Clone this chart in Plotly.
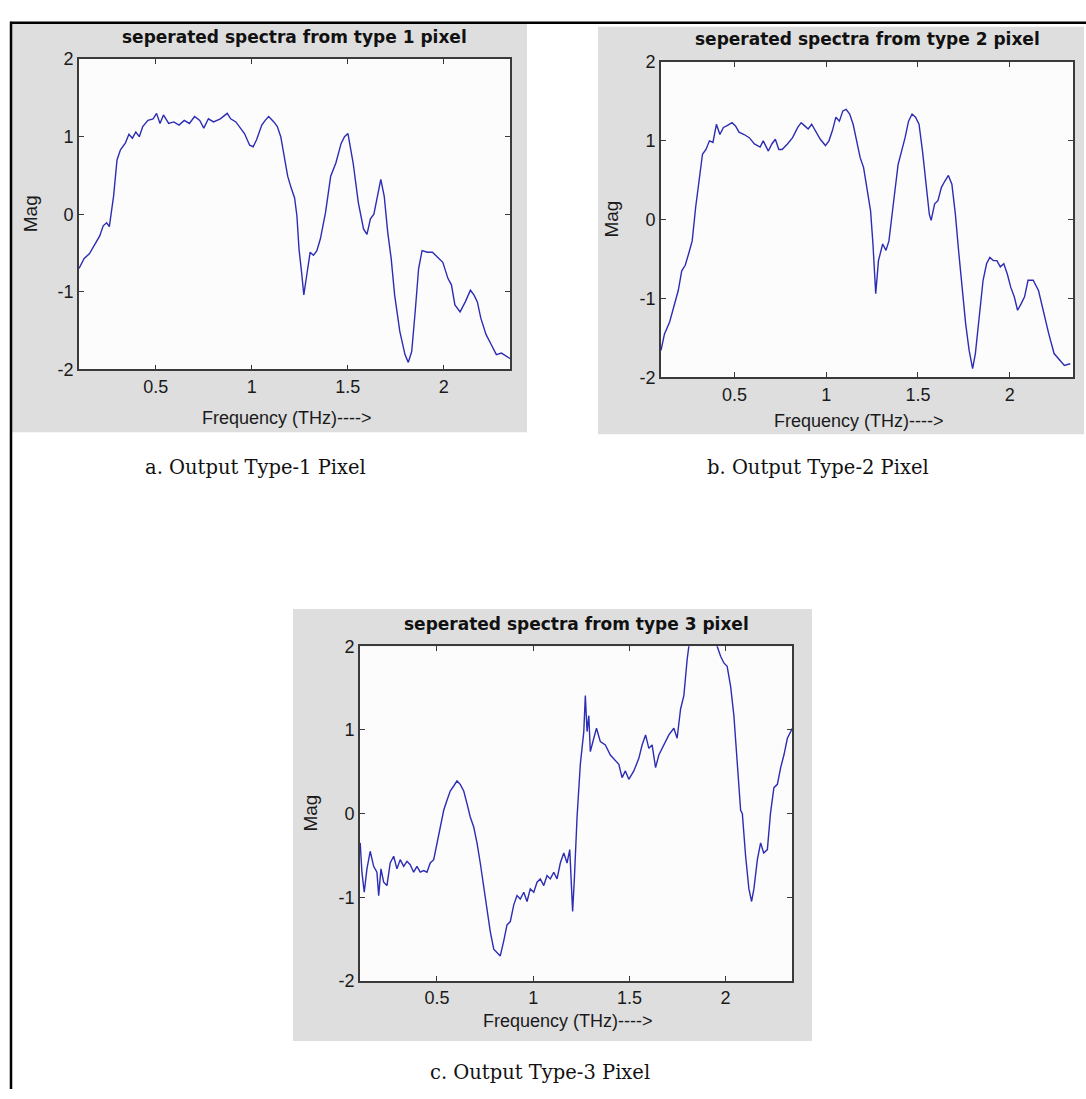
import plotly.graph_objects as go

# ---- spectra data (frequency in THz, magnitude) ----
freq_a = [0.100, 0.127, 0.154, 0.181, 0.208, 0.226, 0.244, 0.258, 0.280, 0.298,
          0.316, 0.342, 0.360, 0.378, 0.396, 0.414, 0.432, 0.459, 0.486, 0.504,
          0.522, 0.540, 0.567, 0.594, 0.621, 0.648, 0.675, 0.702, 0.729, 0.750,
          0.774, 0.801, 0.836, 0.872, 0.890, 0.917, 0.935, 0.962, 0.989, 1.007,
          1.025, 1.052, 1.070, 1.088, 1.115, 1.133, 1.151, 1.169, 1.187, 1.205,
          1.223, 1.235, 1.246, 1.259, 1.271, 1.286, 1.304, 1.321, 1.339, 1.357,
          1.384, 1.411, 1.438, 1.465, 1.483, 1.501, 1.510, 1.528, 1.555, 1.582,
          1.600, 1.618, 1.636, 1.654, 1.672, 1.690, 1.708, 1.726, 1.744, 1.771,
          1.798, 1.815, 1.833, 1.851, 1.869, 1.887, 1.914, 1.941, 1.968, 1.995,
          2.022, 2.040, 2.058, 2.085, 2.112, 2.139, 2.157, 2.175, 2.193, 2.220,
          2.247, 2.274, 2.300, 2.327, 2.351]
mag_a = [-0.70, -0.57, -0.51, -0.40, -0.28, -0.15, -0.11, -0.16, 0.23, 0.70,
         0.83, 0.92, 1.03, 0.98, 1.06, 1.00, 1.13, 1.21, 1.23, 1.30,
         1.17, 1.28, 1.17, 1.19, 1.15, 1.21, 1.17, 1.26, 1.21, 1.11,
         1.23, 1.19, 1.23, 1.30, 1.23, 1.19, 1.13, 1.04, 0.89, 0.87,
         0.96, 1.15, 1.21, 1.26, 1.19, 1.13, 1.00, 0.74, 0.49, 0.34,
         0.21, -0.02, -0.45, -0.74, -1.04, -0.79, -0.49, -0.53, -0.47, -0.32,
         0.02, 0.49, 0.66, 0.91, 1.00, 1.04, 0.91, 0.66, 0.15, -0.19,
         -0.26, -0.06, 0.00, 0.23, 0.45, 0.23, -0.23, -0.57, -1.04, -1.51,
         -1.81, -1.91, -1.77, -1.26, -0.70, -0.47, -0.49, -0.49, -0.55, -0.62,
         -0.83, -0.91, -1.17, -1.26, -1.13, -0.98, -1.04, -1.13, -1.34, -1.55,
         -1.68, -1.81, -1.79, -1.83, -1.87]

freq_b = [0.100, 0.119, 0.147, 0.175, 0.194, 0.213, 0.232, 0.251, 0.270, 0.289,
          0.308, 0.326, 0.345, 0.364, 0.383, 0.402, 0.421, 0.440, 0.458, 0.487,
          0.506, 0.525, 0.553, 0.581, 0.609, 0.640, 0.657, 0.685, 0.704, 0.723,
          0.742, 0.760, 0.789, 0.817, 0.845, 0.864, 0.883, 0.902, 0.921, 0.940,
          0.968, 0.996, 1.015, 1.034, 1.053, 1.072, 1.091, 1.109, 1.128, 1.147,
          1.166, 1.185, 1.204, 1.223, 1.242, 1.255, 1.270, 1.285, 1.308, 1.326,
          1.342, 1.364, 1.392, 1.411, 1.430, 1.449, 1.468, 1.487, 1.506, 1.525,
          1.543, 1.562, 1.572, 1.591, 1.609, 1.628, 1.647, 1.666, 1.685, 1.704,
          1.723, 1.742, 1.760, 1.779, 1.798, 1.813, 1.832, 1.855, 1.874, 1.892,
          1.911, 1.930, 1.949, 1.968, 1.987, 2.006, 2.025, 2.043, 2.062, 2.081,
          2.100, 2.128, 2.157, 2.185, 2.213, 2.242, 2.270, 2.298, 2.330]
mag_b = [-1.66, -1.45, -1.30, -1.07, -0.90, -0.65, -0.58, -0.43, -0.27, 0.16,
         0.54, 0.83, 0.89, 1.00, 0.98, 1.21, 1.08, 1.17, 1.19, 1.23,
         1.19, 1.11, 1.08, 1.04, 0.96, 0.92, 1.00, 0.87, 0.96, 1.02,
         0.89, 0.89, 0.96, 1.04, 1.17, 1.23, 1.19, 1.15, 1.21, 1.13,
         1.02, 0.94, 1.00, 1.13, 1.30, 1.25, 1.38, 1.40, 1.34, 1.21,
         1.00, 0.79, 0.66, 0.41, 0.11, -0.31, -0.94, -0.52, -0.31, -0.39,
         -0.27, 0.16, 0.70, 0.87, 1.04, 1.25, 1.34, 1.30, 1.21, 0.87,
         0.45, 0.07, -0.01, 0.20, 0.24, 0.41, 0.49, 0.56, 0.45, 0.07,
         -0.43, -0.90, -1.32, -1.66, -1.89, -1.70, -1.27, -0.77, -0.56, -0.48,
         -0.52, -0.52, -0.60, -0.56, -0.69, -0.86, -0.98, -1.15, -1.07, -0.98,
         -0.77, -0.77, -0.90, -1.19, -1.45, -1.70, -1.78, -1.85, -1.83]

freq_c = [0.101, 0.110, 0.122, 0.136, 0.153, 0.171, 0.188, 0.197, 0.209, 0.223,
          0.240, 0.257, 0.275, 0.292, 0.309, 0.327, 0.344, 0.361, 0.379, 0.396,
          0.413, 0.431, 0.448, 0.465, 0.483, 0.500, 0.517, 0.535, 0.552, 0.569,
          0.587, 0.604, 0.621, 0.639, 0.656, 0.673, 0.691, 0.708, 0.725, 0.743,
          0.760, 0.777, 0.795, 0.812, 0.829, 0.847, 0.864, 0.881, 0.899, 0.916,
          0.933, 0.951, 0.968, 0.985, 1.003, 1.020, 1.037, 1.055, 1.072, 1.089,
          1.107, 1.124, 1.141, 1.159, 1.176, 1.190, 1.198, 1.205, 1.214, 1.228,
          1.245, 1.263, 1.271, 1.280, 1.289, 1.297, 1.315, 1.329, 1.349, 1.375,
          1.401, 1.427, 1.445, 1.462, 1.479, 1.497, 1.523, 1.549, 1.566, 1.584,
          1.601, 1.618, 1.636, 1.653, 1.679, 1.705, 1.731, 1.748, 1.766, 1.783,
          1.800, 1.809, 1.830, 1.870, 1.910, 1.940, 1.956, 1.974, 1.991, 2.008,
          2.026, 2.043, 2.061, 2.078, 2.087, 2.104, 2.121, 2.135, 2.147, 2.165,
          2.182, 2.198, 2.217, 2.233, 2.251, 2.269, 2.286, 2.303, 2.321, 2.347]
mag_c = [-0.35, -0.70, -0.94, -0.66, -0.45, -0.63, -0.70, -0.98, -0.66, -0.82,
         -0.86, -0.59, -0.51, -0.66, -0.55, -0.63, -0.57, -0.61, -0.70, -0.63,
         -0.70, -0.68, -0.70, -0.59, -0.55, -0.35, -0.16, 0.04, 0.16, 0.27,
         0.33, 0.39, 0.35, 0.27, 0.12, -0.04, -0.16, -0.35, -0.59, -0.86,
         -1.13, -1.41, -1.62, -1.66, -1.70, -1.52, -1.33, -1.29, -1.09, -0.98,
         -1.02, -0.94, -1.05, -0.90, -0.94, -0.82, -0.78, -0.86, -0.74, -0.78,
         -0.70, -0.78, -0.59, -0.47, -0.59, -0.43, -0.82, -1.17, -0.78, -0.04,
         0.59, 0.98, 1.41, 0.98, 1.17, 0.74, 0.90, 1.02, 0.86, 0.82,
         0.70, 0.63, 0.59, 0.43, 0.51, 0.41, 0.51, 0.66, 0.82, 0.94,
         0.78, 0.82, 0.55, 0.70, 0.82, 0.94, 1.02, 0.90, 1.25, 1.41,
         1.84, 2.00, 2.25, 2.40, 2.38, 2.20, 2.00, 1.88, 1.80, 1.76,
         1.52, 1.17, 0.59, 0.04, 0.00, -0.51, -0.90, -1.05, -0.90, -0.55,
         -0.35, -0.47, -0.43, 0.00, 0.31, 0.35, 0.55, 0.70, 0.90, 1.02]

x_tick_vals = [0.5, 1.0, 1.5, 2.0]
x_tick_text = ["0.5", "1", "1.5", "2"]
y_tick_vals = [-2, -1, 0, 1, 2]
y_tick_text = ["-2", "-1", "0", "1", "2"]

titles = ["seperated spectra from type 1 pixel",
          "seperated spectra from type 2 pixel",
          "seperated spectra from type 3 pixel"]
captions = ["a. Output Type-1 Pixel", "b. Output Type-2 Pixel", "c. Output Type-3 Pixel"]
x_label = "Frequency (THz)---->"
y_label = "Mag"

W, H = 1086, 1099


def px(x):
    return x / W


def py(y):
    return 1 - y / H


# pixel boxes: plot area (left, top, right, bottom) and grey figure panel
axes_boxes = [(79, 50, 510, 366), (661, 53, 1073, 374), (360, 648, 792, 989)]
panel_boxes = [(12, 14, 527, 430), (598, 17, 1084, 432), (293, 610, 812, 1050)]
xlabel_y = [416, 419, 1030]
caption_pos = [(255, 466), (818, 466), (540, 1082)]

series = [(freq_a, mag_a), (freq_b, mag_b), (freq_c, mag_c)]

fig = go.Figure()
shapes = []
annotations = []
line_color = "#2c2cb4"
font_sans = "Liberation Sans, Arial, sans-serif"
text_color = "#1a1a1a"

for i, ((fx, fy), box, panel) in enumerate(zip(series, axes_boxes, panel_boxes)):
    n = "" if i == 0 else str(i + 1)
    xa, ya = "x" + n, "y" + n
    fig.add_trace(go.Scatter(x=fx, y=fy, mode="lines", xaxis=xa, yaxis=ya,
                             line=dict(color=line_color, width=1.4),
                             showlegend=False, hoverinfo="skip"))
    l, t, r, b = box
    axis_common = dict(showline=True, linecolor="#3a3a3a", linewidth=1.6,
                       mirror="allticks", ticks="inside", ticklen=5,
                       tickcolor="#3a3a3a", showgrid=False, zeroline=False,
                       tickfont=dict(family=font_sans, size=18, color=text_color))
    fig.update_layout(**{
        "xaxis" + n: dict(domain=[px(l), px(r)], anchor=ya, range=[0.1, 2.345],
                          tickvals=x_tick_vals, ticktext=x_tick_text, **axis_common),
        "yaxis" + n: dict(domain=[py(b), py(t)], anchor=xa, range=[-2, 2],
                          tickvals=y_tick_vals, ticktext=y_tick_text, **axis_common),
    })
    pl, pt, pr, pb = panel
    # grey figure panel, then a white plotting area on top of it
    shapes.append(dict(type="rect", xref="paper", yref="paper", layer="below",
                       x0=px(pl), x1=px(pr), y0=py(pb), y1=py(pt),
                       fillcolor="#dedede", line=dict(width=0)))
    shapes.append(dict(type="rect", xref="paper", yref="paper", layer="below",
                       x0=px(l), x1=px(r), y0=py(b), y1=py(t),
                       fillcolor="#fcfcfc", line=dict(width=0)))
    cx = (l + r) / 2
    annotations.append(dict(text="<b>" + titles[i] + "</b>", xref="paper", yref="paper",
                            x=px(cx), y=py(t - 23), showarrow=False,
                            font=dict(family="DejaVu Sans, sans-serif", size=17, color="#111"),
                            xanchor="center", yanchor="middle"))
    annotations.append(dict(text=x_label, xref="paper", yref="paper",
                            x=px(cx - 8), y=py(xlabel_y[i]), showarrow=False,
                            font=dict(family=font_sans, size=18, color=text_color),
                            xanchor="center", yanchor="middle"))
    annotations.append(dict(text=y_label, xref="paper", yref="paper",
                            x=px(l - 49), y=py((t + b) / 2), showarrow=False, textangle=-90,
                            font=dict(family=font_sans, size=19, color=text_color),
                            xanchor="center", yanchor="middle"))
    cxp, cyp = caption_pos[i]
    annotations.append(dict(text=captions[i], xref="paper", yref="paper",
                            x=px(cxp), y=py(cyp), showarrow=False,
                            font=dict(family="DejaVu Serif, serif", size=19.5, color="#111"),
                            xanchor="center", yanchor="middle"))

# outer frame (left and top edges)
shapes.append(dict(type="line", xref="paper", yref="paper", x0=px(11), x1=px(11),
                   y0=0, y1=py(12), line=dict(color="black", width=2.5)))
shapes.append(dict(type="line", xref="paper", yref="paper", x0=px(10), x1=1,
                   y0=py(13), y1=py(13), line=dict(color="black", width=2.5)))

fig.update_layout(width=W, height=H, margin=dict(l=0, r=0, t=0, b=0),
                  paper_bgcolor="white", plot_bgcolor="#fcfcfc",
                  shapes=shapes, annotations=annotations, showlegend=False)

fig.write_html("out.html")
